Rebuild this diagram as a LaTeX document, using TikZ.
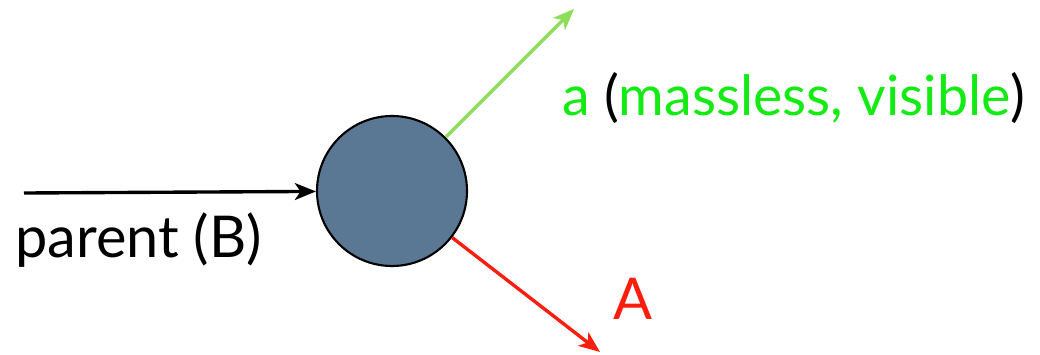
\documentclass[tikz,border=0pt]{standalone}
\usepackage{fontspec}
\setmainfont{Lato}
\usetikzlibrary{arrows.meta}
\definecolor{ballfill}{RGB}{90,119,148}
\definecolor{lightgreen}{RGB}{140,222,90}
\definecolor{brightgreen}{RGB}{20,235,20}
\definecolor{arrred}{RGB}{250,30,15}
\tikzset{
  lbl/.style={anchor=base west, inner sep=0pt, font=\fontsize{41}{48}\selectfont},
  arr/.style={line width=2.4pt, -{Stealth[length=15pt,width=12pt,inset=4pt]}}
}
\begin{document}
\begin{tikzpicture}[x=0.025cm,y=-0.025cm]
\useasboundingbox (0,0) rectangle (1040,355);
\node[circle, draw=black, line width=1.5pt, fill=ballfill, minimum size=150*0.025cm, inner sep=0pt] (c) at (392,191) {};
\coordinate (src) at (24,193);
\coordinate (gtip) at (574,9);
\coordinate (rtip) at (600,352);
\draw[arr, black] (src) -- (c);
\draw[arr, lightgreen] (c) -- (gtip);
\draw[arr, arrred] (c) -- (rtip);
\node[lbl, text=brightgreen, font=\fontsize{39.5}{46}\selectfont] (alab) at (562,115) {a \textcolor{black}{(}massless, visible\textcolor{black}{)}};
\node[lbl, text=black] (plab) at (15,257) {parent (B)};
\node[lbl, text=arrred] (Alab) at (613,319) {A};
\end{tikzpicture}
\end{document}
